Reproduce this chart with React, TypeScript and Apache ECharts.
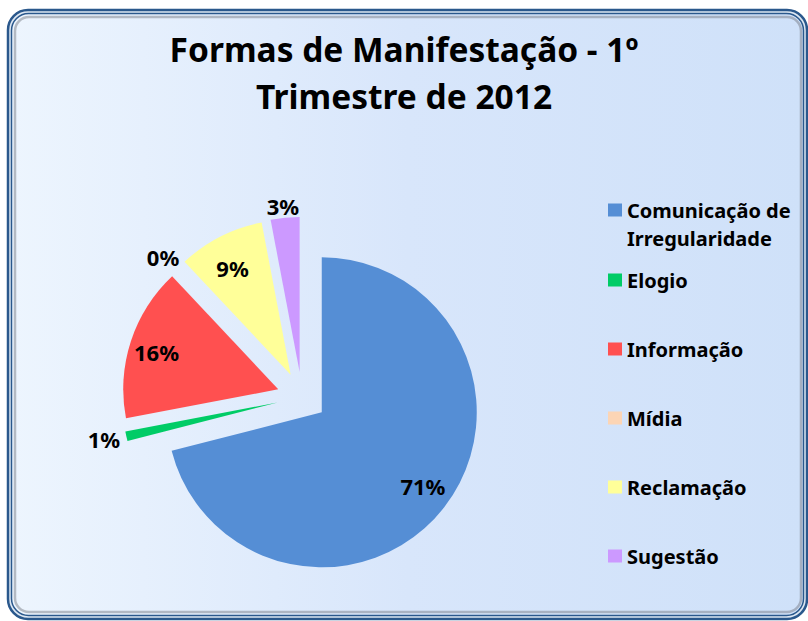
import React, { useEffect, useRef } from 'react';
import * as echarts from 'echarts';

const categories = [
  'Comunicação de Irregularidade',
  'Elogio',
  'Informação',
  'Mídia',
  'Reclamação',
  'Sugestão',
];
const percents = [71, 1, 16, 0, 9, 3];
const colors = ['#558ed5', '#00cc66', '#ff5050', '#fcd5b5', '#ffff99', '#cc99ff'];
const titleText = 'Formas de Manifestação - 1º\nTrimestre de 2012';
const insideLabelMin = 5;

const FONT = "'Noto Sans', 'DejaVu Sans', sans-serif";

export default function App() {
  const ref = useRef<HTMLDivElement>(null);

  useEffect(() => {
    if (!ref.current) return;
    const chart = echarts.init(ref.current, undefined, { renderer: 'svg' });

    const center = [302, 397];
    const squash = 0.06; // slight vertical compression of the reference's labels
    const squashCenterY = 400;
    const labelStyle = {
      color: '#000',
      fontFamily: FONT,
      fontWeight: 'bold' as const,
      fontSize: 22,
      formatter: '{c}%',
    };
    const labelLayout = (p: any) => {
      const r = p.labelRect || p.rect;
      const cy = r.y + r.height / 2;
      return { dy: (squashCenterY - cy) * squash };
    };

    const mainData = categories.map((name, i) => ({
      name,
      value: percents[i],
      selected: true,
      itemStyle: { color: colors[i] },
    }));

    const labelData = (big: boolean) =>
      categories.map((name, i) => ({
        name,
        value: percents[i],
        selected: true,
        itemStyle: { color: 'rgba(0,0,0,0)' },
        label: {
          show: big ? percents[i] >= insideLabelMin : percents[i] < insideLabelMin,
        },
      }));

    const bg = new echarts.graphic.LinearGradient(0, 0, 1, 0, [
      { offset: 0, color: '#edf5fe' },
      { offset: 0.5, color: '#d8e6fb' },
      { offset: 1, color: '#cfe1f9' },
    ]);

    const legendText = {
      fontFamily: FONT,
      fontWeight: 'bold' as const,
      fontSize: 20,
      lineHeight: 28,
      color: '#000',
    };

    chart.setOption({
      animation: false,
      graphic: [
        {
          type: 'rect',
          z: -10,
          shape: { x: 8, y: 10, width: 799, height: 609, r: 20 },
          style: { fill: '#dde7f2', stroke: '#2a588c', lineWidth: 2.5 },
        },
        {
          type: 'rect',
          z: -9,
          shape: { x: 11.5, y: 13.5, width: 792, height: 602, r: 17 },
          style: { fill: bg, stroke: '#2a588c', lineWidth: 1.5 },
        },
        {
          type: 'rect',
          z: -8,
          shape: { x: 15, y: 17, width: 786, height: 595, r: 14 },
          style: { fill: 'none', stroke: 'rgba(110,115,125,0.45)', lineWidth: 2.5 },
        },
      ],
      title: {
        text: titleText,
        left: 'center',
        top: 25,
        padding: [0, 0, 0, 30],
        textStyle: {
          fontFamily: FONT,
          fontWeight: 'bold',
          fontSize: 33.5,
          lineHeight: 47,
          color: '#000',
        },
      },
      legend: [
        {
          orient: 'vertical',
          left: 608,
          top: 168,
          padding: 0,
          icon: 'rect',
          itemWidth: 14,
          itemHeight: 13,
          selectedMode: false,
          data: [categories[0]],
          formatter: (name: string) => '\n' + name.replace('de ', 'de\n'),
          textStyle: legendText,
        },
        {
          orient: 'vertical',
          left: 608,
          top: 266,
          padding: 0,
          icon: 'rect',
          itemWidth: 14,
          itemHeight: 13,
          itemGap: 41,
          selectedMode: false,
          data: categories.slice(1),
          textStyle: legendText,
        },
      ],
      series: [
        {
          name: 'main',
          type: 'pie',
          center,
          radius: [0, 155],
          startAngle: 90,
          clockwise: true,
          selectedMode: 'multiple',
          selectedOffset: 25,
          avoidLabelOverlap: false,
          label: { show: false },
          labelLine: { show: false },
          emphasis: { disabled: true },
          data: mainData,
        },
        {
          name: 'labelsInner',
          type: 'pie',
          center,
          radius: [0, 250],
          startAngle: 90,
          clockwise: true,
          selectedMode: 'multiple',
          selectedOffset: 25,
          silent: true,
          legendHoverLink: false,
          avoidLabelOverlap: false,
          z: 3,
          label: { position: 'inside', ...labelStyle },
          labelLine: { show: false },
          labelLayout,
          emphasis: { disabled: true },
          data: labelData(true),
        },
        {
          name: 'labelsOuter',
          type: 'pie',
          center,
          radius: [0, 350],
          startAngle: 90,
          clockwise: true,
          selectedMode: 'multiple',
          selectedOffset: 25,
          silent: true,
          legendHoverLink: false,
          avoidLabelOverlap: false,
          z: 3,
          label: { position: 'inside', ...labelStyle },
          labelLine: { show: false },
          labelLayout,
          emphasis: { disabled: true },
          data: labelData(false),
        },
      ],
    });

    return () => chart.dispose();
  }, []);

  return (
    <div
      ref={ref}
      style={{ position: 'fixed', left: 0, top: 0, width: 808, height: 621, background: '#fff' }}
    />
  );
}
